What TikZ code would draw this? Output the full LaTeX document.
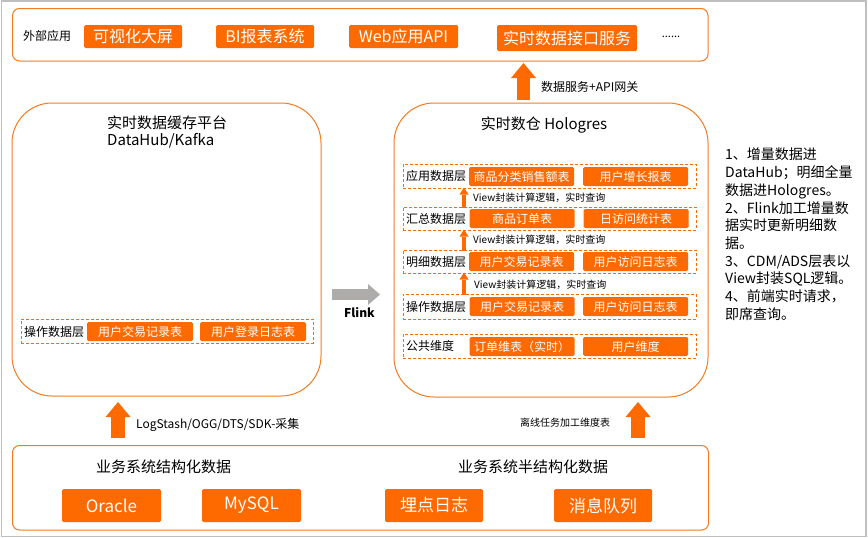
\documentclass[tikz,border=0pt]{standalone}
\usepackage{fontspec}
\setmainfont{Noto Sans CJK SC}
\usetikzlibrary{arrows.meta}
\definecolor{orng}{HTML}{FF6A00}
\definecolor{orngline}{HTML}{F47B20}
\definecolor{arrgray}{HTML}{AEABAB}
\definecolor{framegray}{HTML}{BFBFBF}
\newcommand{\fsz}[1]{\fontsize{#1}{#1}\selectfont}
\begin{document}
\begin{tikzpicture}[x=1pt,y=-1pt,
  bigbox/.style={draw=orngline, line width=1pt, rounded corners=40pt, inner sep=0pt},
  panel/.style={draw=orngline, line width=1pt, rounded corners=7pt, inner sep=0pt},
  obox/.style={fill=orng, text=white, rounded corners=1.5pt, inner sep=0pt},
  dbox/.style={draw=orng, line width=1pt, dash pattern=on 3pt off 2pt, inner sep=0pt},
  lbl/.style={inner sep=0pt, text=black},
  bigarrow/.style={draw=orng, line width=13pt, -{Triangle[width=25pt,length=15pt,line width=0pt]}},
  smallarrow/.style={draw=orng, line width=4pt, -{Triangle[width=9pt,length=7pt,line width=0pt]}},
  grayarrow/.style={draw=arrgray, line width=11pt, -{Triangle[width=21pt,length=12pt,line width=0pt]}},
  rowbox/.style={obox, minimum width=105pt, minimum height=19pt, font=\fsz{12}},
  rowdash/.style={dbox, minimum width=293pt},
  viewlbl/.style={lbl, anchor=west, font=\fsz{10}}
]
\useasboundingbox (0,0) rectangle (868,538);
\draw[framegray, line width=1.3pt] (1.5,1) rectangle (866,536.5);

% ---------- top panel ----------
\node[panel, minimum width=695.5pt, minimum height=52.5pt] (top) at (360.25,34.75) {};
\node[lbl, anchor=west, font=\fsz{12}] (ext) at (23,36) {外部应用};
\node[obox, minimum width=98pt, minimum height=23pt, font=\fsz{16}] (t1) at (133,36.5) {可视化大屏};
\node[obox, minimum width=98pt, minimum height=23pt, font=\fsz{16}] (t2) at (265,36.5) {BI报表系统};
\node[obox, minimum width=109pt, minimum height=23pt, font=\fsz{16}] (t3) at (403.5,36.5) {Web应用API};
\node[obox, minimum width=140pt, minimum height=26pt, font=\fsz{16}] (t4) at (567,38) {实时数据接口服务};
\node[lbl, font=\fsz{11}] (dots) at (671,37) {......};

% top arrow
\coordinate (ta0) at (523.5,100);
\coordinate (ta1) at (523.5,63);
\draw[bigarrow] (ta0) -- (ta1);
\node[lbl, anchor=west, font=\fsz{12}] (talbl) at (541,87) {数据服务+API网关};

% ---------- left big box ----------
\node[bigbox, minimum width=309pt, minimum height=293pt] (left) at (166.5,249.5) {};
\node[lbl, anchor=west, font=\fsz{15}] (lt1) at (107,123) {实时数据缓存平台};
\node[lbl, anchor=west, font=\fsz{15}] (lt2) at (107,141) {DataHub/Kafka};
\node[dbox, minimum width=292pt, minimum height=24pt] (lrow) at (167,331) {};
\node[lbl, anchor=west, font=\fsz{12}] (lrowl) at (24,332) {操作数据层};
\node[obox, minimum width=106pt, minimum height=19pt, font=\fsz{12}] (lb1) at (140,331.5) {用户交易记录表};
\node[obox, minimum width=106pt, minimum height=19pt, font=\fsz{12}] (lb2) at (253,331.5) {用户登录日志表};

% ---------- Flink arrow ----------
\coordinate (fa0) at (332,294.5);
\coordinate (fa1) at (380,294.5);
\draw[grayarrow] (fa0) -- (fa1);
\node[lbl, font=\bfseries\fsz{12}] (flink) at (359.5,313) {Flink};

% ---------- right big box ----------
\node[bigbox, minimum width=314pt, minimum height=294pt] (right) at (551,250) {};
\node[lbl, font=\fsz{15}] (rt) at (544,125) {实时数仓 Hologres};

\node[rowdash, minimum height=24pt] (r1) at (549.5,176) {};
\node[lbl, anchor=west, font=\fsz{12}] (r1l) at (406,176) {应用数据层};
\node[rowbox] (r1a) at (521.5,176.5) {商品分类销售额表};
\node[rowbox] (r1b) at (635.5,176.5) {用户增长报表};

\node[rowdash, minimum height=23pt] (r2) at (549.5,218.5) {};
\node[lbl, anchor=west, font=\fsz{12}] (r2l) at (406,218.5) {汇总数据层};
\node[rowbox] (r2a) at (522,218.5) {商品订单表};
\node[rowbox] (r2b) at (636,218.5) {日访问统计表};

\node[rowdash, minimum height=23pt] (r3) at (549.5,261.5) {};
\node[lbl, anchor=west, font=\fsz{12}] (r3l) at (406,261.5) {明细数据层};
\node[rowbox] (r3a) at (521.5,261.5) {用户交易记录表};
\node[rowbox] (r3b) at (635.5,261.5) {用户访问日志表};

\node[rowdash, minimum height=25pt] (r4) at (549.5,306.5) {};
\node[lbl, anchor=west, font=\fsz{12}] (r4l) at (406,306.5) {操作数据层};
\node[rowbox] (r4a) at (522,306.5) {用户交易记录表};
\node[rowbox] (r4b) at (635.5,306.5) {用户访问日志表};

\node[rowdash, minimum height=24pt] (r5) at (549.5,346) {};
\node[lbl, anchor=west, font=\fsz{12}] (r5l) at (406,346) {公共维度};
\node[rowbox] (r5a) at (522,346.5) {订单维表（实时）};
\node[rowbox] (r5b) at (635.5,346.5) {用户维度};

\coordinate (ax) at (464,0);
\draw[smallarrow] ([yshift=-1pt]r2.north -| ax) -- ([yshift=1pt]r1.south -| ax);
\draw[smallarrow] ([yshift=-1pt]r3.north -| ax) -- ([yshift=1pt]r2.south -| ax);
\draw[smallarrow] ([yshift=-1pt]r4.north -| ax) -- ([yshift=1pt]r3.south -| ax);
\node[viewlbl] (v1) at (473,198) {View封装计算逻辑，实时查询};
\node[viewlbl] (v2) at (473,240) {View封装计算逻辑，实时查询};
\node[viewlbl] (v3) at (474,284.5) {View封装计算逻辑，实时查询};

% ---------- notes ----------
\node[lbl, anchor=north west, align=left, font=\fontsize{14}{17.7}\selectfont] (notes) at (725,148)
 {1、增量数据进\\DataHub；明细全量\\数据进Hologres。\\2、Flink加工增量数\\据实时更新明细数\\据。\\3、CDM/ADS层表以\\View封装SQL逻辑。\\4、前端实时请求，\\即席查询。};

% ---------- bottom panel ----------
\node[panel, minimum width=696pt, minimum height=84.5pt] (bot) at (360.5,487.75) {};
\node[lbl, font=\fsz{15}] (bt1) at (163.5,467) {业务系统结构化数据};
\node[lbl, font=\fsz{15}] (bt2) at (533,467) {业务系统半结构化数据};
\node[obox, minimum width=99pt, minimum height=33pt, font=\fsz{17}] (b1) at (111.5,505.5) {Oracle};
\node[obox, minimum width=99pt, minimum height=33pt, font=\fsz{17}] (b2) at (251.5,505.5) {MySQL};
\node[obox, minimum width=98pt, minimum height=33pt, font=\fsz{17}] (b3) at (434,505.5) {埋点日志};
\node[obox, minimum width=98pt, minimum height=33pt, font=\fsz{17}] (b4) at (603,505.5) {消息队列};

\coordinate (la0) at (118,438);
\coordinate (la1) at (118,402);
\draw[bigarrow, line width=14pt] (la0) -- (la1);
\node[lbl, anchor=west, font=\fsz{12}] (lalbl) at (136,425) {LogStash/OGG/DTS/SDK-采集};

\coordinate (ra0) at (638,438);
\coordinate (ra1) at (638,402);
\draw[bigarrow, line width=14pt] (ra0) -- (ra1);
\node[lbl, font=\fsz{10}] (ralbl) at (565,423) {离线任务加工维度表};
\end{tikzpicture}
\end{document}
